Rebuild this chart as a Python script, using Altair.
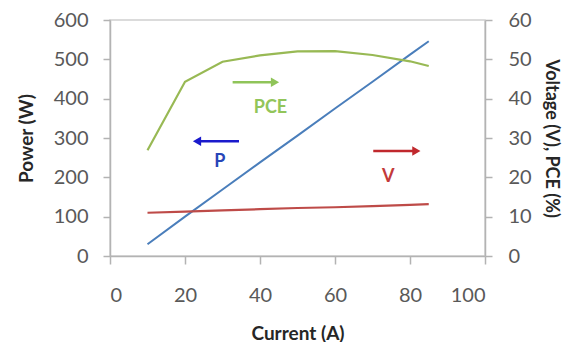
import altair as alt
import pandas as pd

# ---- data ----
current = [10, 20, 30, 40, 50, 60, 70, 80, 85]
power = [30, 100, 169, 238, 306, 375, 443, 512, 546]
voltage = [11.0, 11.3, 11.6, 11.9, 12.2, 12.4, 12.7, 13.0, 13.2]
pce = [26.9, 44.3, 49.4, 51.0, 52.0, 52.1, 51.1, 49.5, 48.3]

# annotation arrows (data units: current, power)
arrow_labels = ["PCE", "P", "V"]
arrow_start = [32.7, 34.4, 70.2]
arrow_end = [44.0, 23.2, 81.7]
arrow_level = [442, 292, 267]
label_x = [42.8, 29.3, 74.2]
label_y = [376, 239, 201]

x_ticks = [0, 20, 40, 60, 80, 100]
p_ticks = [0, 100, 200, 300, 400, 500, 600]
r_ticks = [0, 10, 20, 30, 40, 50, 60]

arrow_colors = {"PCE": "#8fc459", "P": "#1a1acc", "V": "#c0282d"}
text_colors = {"PCE": "#92c55a", "P": "#2846b8", "V": "#c33a3a"}

FONT = "Lato"
LABEL_COLOR = "#595959"
AXIS_COLOR = "#b3b3b3"

df_p = pd.DataFrame({"current": current, "power": power})
df_r = pd.DataFrame({
    "current": current * 2,
    "value": voltage + pce,
    "series": ["V"] * len(current) + ["PCE"] * len(current),
})

x_scale = alt.Scale(domain=[0, 100], nice=False)
x_axis = alt.Axis(
    title="Current (A)", values=x_ticks, tickSize=8, labelPadding=21,
    titlePadding=19, grid=False,
)
p_scale = alt.Scale(domain=[0, 600], nice=False)
p_axis = alt.Axis(
    title="Power (W)", values=p_ticks, tickSize=7, labelPadding=15,
    titlePadding=17, grid=False,
)

p_line = alt.Chart(df_p).mark_line(color="#4a7ebb", strokeWidth=2).encode(
    x=alt.X("current:Q", scale=x_scale, axis=x_axis, title="Current (A)"),
    y=alt.Y("power:Q", scale=p_scale, axis=p_axis, title="Power (W)"),
)

left_layers = [p_line]
for i, lab in enumerate(arrow_labels):
    d = pd.DataFrame({
        "start": [arrow_start[i]], "end": [arrow_end[i]], "level": [arrow_level[i]],
        "lx": [label_x[i]], "ly": [label_y[i]], "label": [lab],
    })
    shape = "triangle-right" if arrow_end[i] > arrow_start[i] else "triangle-left"
    rule = alt.Chart(d).mark_rule(color=arrow_colors[lab], strokeWidth=2.5).encode(
        x=alt.X("start:Q", scale=x_scale, axis=x_axis, title="Current (A)"),
        x2="end:Q",
        y=alt.Y("level:Q", scale=p_scale, axis=p_axis, title="Power (W)"),
    )
    head = alt.Chart(d).mark_point(
        shape=shape, filled=True, size=90, color=arrow_colors[lab], opacity=1
    ).encode(
        x=alt.X("end:Q", scale=x_scale, axis=x_axis, title="Current (A)"),
        y=alt.Y("level:Q", scale=p_scale, axis=p_axis, title="Power (W)"),
    )
    txt = alt.Chart(d).mark_text(
        font=FONT, fontSize=18, fontWeight="bold", color=text_colors[lab],
        baseline="middle", align="center",
    ).encode(
        x=alt.X("lx:Q", scale=x_scale, axis=x_axis, title="Current (A)"),
        y=alt.Y("ly:Q", scale=p_scale, axis=p_axis, title="Power (W)"),
        text="label:N",
    )
    left_layers += [rule, head, txt]

left = alt.layer(*left_layers)

right = alt.Chart(df_r).mark_line(strokeWidth=2.2).encode(
    x=alt.X("current:Q", scale=x_scale, axis=x_axis, title="Current (A)"),
    y=alt.Y(
        "value:Q", scale=alt.Scale(domain=[0, 60], nice=False),
        axis=alt.Axis(
            title="Voltage (V), PCE (%)", orient="right", values=r_ticks, tickSize=7,
            labelPadding=16, titlePadding=10, titleFontSize=18, grid=False,
        ),
    ),
    color=alt.Color(
        "series:N", scale=alt.Scale(domain=["V", "PCE"], range=["#be4b48", "#98b954"]),
        legend=None,
    ),
)

chart = alt.layer(left, right).resolve_scale(y="independent").properties(
    width=375, height=236,
    autosize=alt.AutoSizeParams(type="none"),
    padding={"left": 102, "top": 12, "right": 80, "bottom": 86},
).configure_view(stroke="#d0d0d0", strokeWidth=1.5).configure_axis(
    labelFont=FONT, labelFontSize=20, labelColor=LABEL_COLOR,
    titleFont=FONT, titleFontSize=19, titleFontWeight="bold", titleColor="#262626",
    domainColor=AXIS_COLOR, tickColor=AXIS_COLOR, domainWidth=1.5, tickWidth=1.5,
)

chart.save("out.html", embed_options={"renderer": "svg", "actions": False})
